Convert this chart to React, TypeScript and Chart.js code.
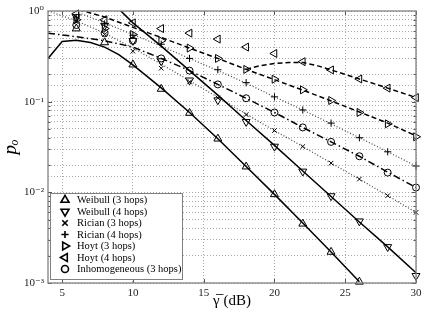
import React, { useEffect, useRef } from "react";
import { Chart, registerables } from "chart.js";

Chart.register(...registerables);

const SERIF = "'Liberation Serif', 'DejaVu Serif', 'Times New Roman', serif";

// ---- simulation points (markers) ----
const simSnr = [6, 8, 10, 12, 14, 16, 18, 20, 22, 24, 26, 28, 30];
const weibull3Sim = [0.64, 0.45, 0.256, 0.138, 0.075, 0.039, 0.0192, 0.0095, 0.0045, 0.0022, 0.00103, null, null];
const weibull4Sim = [0.86, 0.69, 0.47, 0.28, 0.172, 0.104, 0.06, 0.032, 0.017, 0.0091, 0.0048, 0.0025, 0.0012];
const rician3Sim = [0.76, 0.55, 0.36, 0.234, 0.165, 0.11, 0.072, 0.048, 0.032, 0.021, 0.014, 0.0092, 0.006];
const rician4Sim = [0.84, 0.72, 0.54, 0.43, 0.3, 0.225, 0.162, 0.113, 0.081, 0.058, 0.04, 0.028, 0.0195];
const hoyt3Sim = [0.8, 0.64, 0.55, 0.47, 0.39, 0.3, 0.227, 0.177, 0.135, 0.103, 0.076, 0.057, 0.041];
const hoyt4Sim = [0.93, 0.8, 0.74, 0.64, 0.57, 0.49, 0.4, 0.34, 0.276, 0.224, 0.178, 0.141, 0.111];
const inhomSim = [0.7, 0.57, 0.47, 0.3, 0.22, 0.155, 0.109, 0.076, 0.052, 0.036, 0.025, 0.0165, 0.0113];

// ---- analytical curves ----
const weibull3CurveSnr = [4, 5, 6, 7, 8, 9, 10, 12, 14, 16, 18, 20, 22, 24, 26];
const weibull3Curve = [0.3, 0.46, 0.475, 0.45, 0.4, 0.33, 0.255, 0.142, 0.076, 0.039, 0.0193, 0.0095, 0.0046, 0.0022, 0.00103];
const curveSnr = [4, 6, 8, 10, 12, 14, 16, 18, 20, 22, 24, 26, 28, 30];
const weibull4Curve = [4.0, 2.5, 1.5, 0.74, 0.41, 0.22, 0.118, 0.062, 0.033, 0.0172, 0.009, 0.0047, 0.0025, 0.0013];
const rician3Curve = [1.0, 0.78, 0.57, 0.39, 0.26, 0.17, 0.112, 0.073, 0.048, 0.032, 0.021, 0.014, 0.0092, 0.006];
const rician4Curve = [1.3, 0.98, 0.74, 0.55, 0.41, 0.3, 0.22, 0.16, 0.113, 0.081, 0.057, 0.04, 0.028, 0.0195];
const hoyt3Curve = [1.3, 1.05, 0.86, 0.66, 0.51, 0.39, 0.3, 0.227, 0.175, 0.134, 0.102, 0.077, 0.058, 0.042];
const hoyt4CurveSnr = [18, 19, 20, 21, 22, 23, 24, 26, 28, 30];
const hoyt4Curve = [0.227, 0.25, 0.263, 0.27, 0.27, 0.25, 0.224, 0.178, 0.141, 0.111];
const inhomCurve = [0.57, 0.52, 0.47, 0.4, 0.3, 0.22, 0.155, 0.109, 0.076, 0.052, 0.036, 0.025, 0.0167, 0.0113];

const xTicks = [5, 10, 15, 20, 25, 30];
const legendLabels = [
  "Weibull (3 hops)",
  "Weibull (4 hops)",
  "Rician (3 hops)",
  "Rician (4 hops)",
  "Hoyt (3 hops)",
  "Hoyt (4 hops)",
  "Inhomogeneous (3 hops)",
];

type Marker = { style: string; rot: number; r: number };
const markers: Marker[] = [
  { style: "triangle", rot: 0, r: 4.6 },
  { style: "triangle", rot: 180, r: 4.6 },
  { style: "crossRot", rot: 0, r: 3.2 },
  { style: "cross", rot: 0, r: 3.6 },
  { style: "triangle", rot: 90, r: 4.6 },
  { style: "triangle", rot: 270, r: 4.6 },
  { style: "circle", rot: 0, r: 3.5 },
];

const zip = (xs: number[], ys: (number | null)[]) => xs.map((x, i) => ({ x, y: ys[i] }));

function drawMarker(ctx: CanvasRenderingContext2D, m: Marker, x: number, y: number, lw: number) {
  ctx.save();
  ctx.translate(x, y);
  ctx.rotate((m.rot * Math.PI) / 180);
  ctx.beginPath();
  const r = m.r;
  if (m.style === "triangle") {
    for (let i = 0; i < 3; i++) {
      const a = (i * 2 * Math.PI) / 3;
      const px = Math.sin(a) * r;
      const py = -Math.cos(a) * r;
      if (i === 0) ctx.moveTo(px, py);
      else ctx.lineTo(px, py);
    }
    ctx.closePath();
  } else if (m.style === "circle") {
    ctx.arc(0, 0, r, 0, Math.PI * 2);
  } else if (m.style === "cross") {
    ctx.moveTo(-r, 0);
    ctx.lineTo(r, 0);
    ctx.moveTo(0, -r);
    ctx.lineTo(0, r);
  } else {
    const d = r * 0.85;
    ctx.moveTo(-d, -d);
    ctx.lineTo(d, d);
    ctx.moveTo(-d, d);
    ctx.lineTo(d, -d);
  }
  ctx.lineWidth = lw;
  ctx.strokeStyle = "#000";
  ctx.stroke();
  ctx.restore();
}

const framePlugin = {
  id: "frame",
  afterDraw(chart: any) {
    const { ctx, chartArea: a, scales } = chart;
    ctx.save();
    // inner tick marks
    ctx.strokeStyle = "#555";
    ctx.lineWidth = 1;
    ctx.beginPath();
    for (const t of xTicks) {
      const px = Math.round(scales.x.getPixelForValue(t)) + 0.5;
      ctx.moveTo(px, a.bottom);
      ctx.lineTo(px, a.bottom - 4);
      ctx.moveTo(px, a.top);
      ctx.lineTo(px, a.top + 4);
    }
    for (let e = -3; e < 0; e++) {
      for (let k = 1; k <= 9; k++) {
        const v = k * Math.pow(10, e);
        const py = Math.round(scales.y.getPixelForValue(v)) + 0.5;
        const len = k === 1 ? 4 : 2.5;
        ctx.moveTo(a.left, py);
        ctx.lineTo(a.left + len, py);
        ctx.moveTo(a.right, py);
        ctx.lineTo(a.right - len, py);
      }
    }
    ctx.stroke();
    ctx.strokeStyle = "#808080";
    ctx.lineWidth = 1.3;
    ctx.strokeRect(a.left, a.top, a.right - a.left, a.bottom - a.top);

    // legend
    const lx = 50.5, ly = 193.5, lw = 132, lh = 86;
    ctx.fillStyle = "#fff";
    ctx.fillRect(lx, ly, lw, lh);
    ctx.strokeStyle = "#808080";
    ctx.lineWidth = 1;
    ctx.strokeRect(lx, ly, lw, lh);
    ctx.font = `10.5px ${SERIF}`;
    ctx.fillStyle = "#000";
    ctx.textBaseline = "middle";
    ctx.textAlign = "left";
    legendLabels.forEach((label, i) => {
      const y = 200 + i * 11.5;
      drawMarker(ctx, markers[i], 65, y, 1.6);
      ctx.fillText(label, 77, y + 0.5);
    });
    ctx.restore();
  },
};

export default function App() {
  const ref = useRef<HTMLCanvasElement | null>(null);
  useEffect(() => {
    if (!ref.current) return;
    const simSeries = [weibull3Sim, weibull4Sim, rician3Sim, rician4Sim, hoyt3Sim, hoyt4Sim, inhomSim];
    const markerSets = simSeries.map((ys, i) => ({
      label: legendLabels[i],
      data: zip(simSnr, ys),
      showLine: false,
      pointStyle: markers[i].style,
      pointRotation: markers[i].rot,
      pointRadius: markers[i].r,
      pointBorderWidth: 1,
      pointBorderColor: "#000",
      pointBackgroundColor: "rgba(0,0,0,0)",
      borderColor: "#000",
      clip: false,
      order: 0,
    }));
    const line = (xs: number[], ys: number[], dash: number[], width: number, color = "#000") => ({
      label: "",
      data: zip(xs, ys),
      borderColor: color,
      borderWidth: width,
      borderDash: dash,
      pointRadius: 0,
      tension: 0,
      fill: false,
      clip: 0,
      order: 1,
    });
    const lineSets = [
      line(weibull3CurveSnr, weibull3Curve, [], 1.5),
      line(curveSnr, weibull4Curve, [], 1.5),
      line(curveSnr, rician3Curve, [1, 2], 1.2, "#444"),
      line(curveSnr, rician4Curve, [1, 2], 1.2, "#444"),
      line(curveSnr, hoyt3Curve, [5, 3], 1.5),
      line(hoyt4CurveSnr, hoyt4Curve, [5, 3], 1.5),
      line(curveSnr, inhomCurve, [7, 3, 1.5, 3], 1.5),
    ];
    const chart = new Chart(ref.current, {
      type: "line",
      data: { datasets: [...lineSets, ...markerSets] as any },
      plugins: [framePlugin],
      options: {
        animation: false,
        responsive: false,
        events: [],
        layout: { padding: { top: 11, right: 20, left: 0, bottom: 0 } },
        plugins: { legend: { display: false }, tooltip: { enabled: false } },
        scales: {
          x: {
            type: "linear",
            min: 4,
            max: 30,
            afterBuildTicks: (s: any) => {
              s.ticks = xTicks.map((v) => ({ value: v }));
            },
            afterFit: (s: any) => {
              s.height = 37;
            },
            grid: { color: "#aaa", lineWidth: 1, drawTicks: false },
            border: { display: false, dash: [1, 2] },
            ticks: {
              padding: 4,
              font: { family: SERIF, size: 11 },
              color: "#222",
              maxRotation: 0,
              autoSkip: false,
            },
            title: {
              display: true,
              text: "\u03b3\u0305 (dB)",
              font: { family: SERIF, size: 15 },
              color: "#000",
              padding: { top: 0, bottom: 10 },
            },
          },
          y: {
            type: "logarithmic",
            min: 0.001,
            max: 1,
            afterFit: (s: any) => {
              s.width = 48;
            },
            grid: { color: "#aaa", lineWidth: 1, drawTicks: false },
            border: { display: false, dash: [1, 2] },
            ticks: {
              padding: 4,
              autoSkip: false,
              font: { family: SERIF, size: 11 },
              color: "#222",
              callback: (v: any) => {
                const e = Math.round(Math.log10(v));
                if (Math.abs(Math.log10(v) - e) > 1e-6) return "";
                const sup: Record<string, string> = { "0": "\u2070", "1": "\u00b9", "2": "\u00b2", "3": "\u00b3", "-": "\u207b" };
                return "10" + String(e).split("").map((c) => sup[c]).join("");
              },
            },
            title: {
              display: true,
              text: "p\u2092",
              font: { family: SERIF, size: 19, style: "italic" },
              color: "#000",
              padding: { top: 0, bottom: 6 },
            },
          },
        },
      },
    } as any);
    return () => chart.destroy();
  }, []);
  return (
    <div style={{ position: "absolute", left: 0, top: 0, width: 436, height: 320, background: "#fff" }}>
      <canvas ref={ref} width={436} height={320} />
    </div>
  );
}
